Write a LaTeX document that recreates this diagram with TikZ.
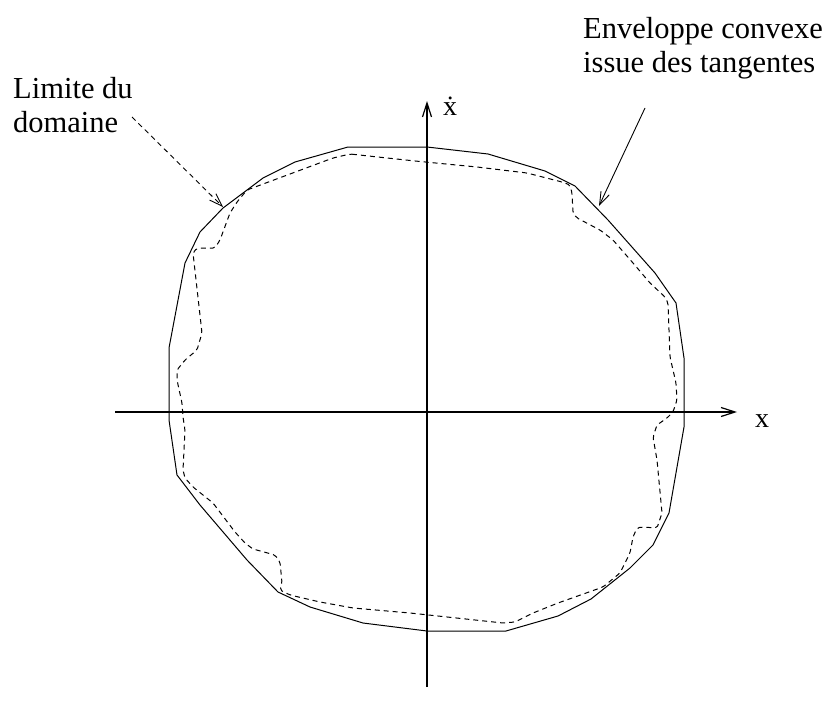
\documentclass[tikz,border=0pt]{standalone}
\usepackage{fontspec}
\setmainfont{Liberation Serif}
\usetikzlibrary{arrows.meta, positioning}
\tikzset{
  axis/.style   = {-{Straight Barb[length=14pt, width=9pt]}, line width=1.2pt},
  hull/.style   = {line width=1pt},
  bound/.style  = {line width=1pt, dash pattern=on 5pt off 4pt, rounded corners=2pt},
  lead/.style   = {-{Straight Barb[length=13pt, width=9pt]}, line width=0.9pt},
  lbl/.style    = {font=\fontsize{30.5}{34}\selectfont, align=left, inner sep=0pt},
  axlbl/.style  = {font=\fontsize{28}{30}\selectfont, inner sep=0pt},
}
\begin{document}
\begin{tikzpicture}[x=1pt, y=-1pt]

% ---- Frame ------------------------------------------------------------------
\useasboundingbox (0,0) rectangle (830,717);

% ---- Axes -------------------------------------------------------------------
\coordinate (xl) at (115,412);
\coordinate (xr) at (737,412);
\coordinate (yb) at (427,687);
\coordinate (yt) at (427,101);
\draw[axis] (xl) -- (xr);
\draw[axis] (yb) -- (yt);
\node[axlbl, anchor=base] (xlab)  at (762,427) {x};
\node[axlbl, anchor=base] (dxlab) at (450,115) {\.x};

% ---- Convex hull from the tangents -----------------------------------------
\draw[hull] (348,147) -- (427,147) -- (488,154) -- (545,171) -- (575,186)
  -- (608,220) -- (655,273) -- (676,303) -- (684,358) -- (684,427)
  -- (669,513) -- (653,545) -- (630,568) -- (591,599) -- (558,616)
  -- (506,631) -- (427,631) -- (363,623) -- (310,607) -- (278,592)
  -- (247,560) -- (200,505) -- (177,475) -- (169,420) -- (169,348)
  -- (185,263) -- (200,232) -- (223,208) -- (263,178) -- (295,162) -- cycle;

% ---- Domain boundary (dashed) ----------------------------------------------
\draw[bound] (350,154) -- (415,161) -- (477,167) -- (527,173) -- (562,182)
  -- (570,185) -- (572,193) -- (573,213) -- (577,218) -- (600,230)
  -- (613,240) -- (633,263) -- (650,283) -- (665,297) -- (668,303)
  -- (670,357) -- (676,383) -- (677,400) -- (673,412) -- (667,418)
  -- (657,425) -- (653,437) -- (657,460) -- (662,513) -- (657,528)
  -- (642,527) -- (637,528) -- (633,537) -- (630,553) -- (620,573)
  -- (603,587) -- (558,603) -- (533,613) -- (515,622) -- (503,623)
  -- (410,613) -- (353,608) -- (320,602) -- (290,595) -- (280,590)
  -- (282,583) -- (280,562) -- (275,555) -- (253,549) -- (245,543)
  -- (235,532) -- (213,503) -- (193,487) -- (185,478) -- (183,470)
  -- (185,430) -- (183,417) -- (182,403) -- (177,380) -- (177,370)
  -- (185,360) -- (197,350) -- (202,333) -- (193,253) -- (197,248)
  -- (215,248) -- (220,240) -- (230,213) -- (237,202) -- (247,190)
  -- (333,158) -- cycle;

% ---- Annotations ------------------------------------------------------------
\node[lbl, anchor=north west] (lim) at (13,77) {Limite du\\domaine};
\node[lbl, anchor=north west] (env) at (583,17) {Enveloppe convexe\\issue des tangentes};
\coordinate (limfrom) at (132,117);
\coordinate (limto)   at (223,207);
\coordinate (envfrom) at (645,108);
\coordinate (envto)   at (599,206);
\draw[lead, dash pattern=on 5pt off 4pt] (limfrom) -- (limto);
\draw[lead] (envfrom) -- (envto);

\end{tikzpicture}
\end{document}
